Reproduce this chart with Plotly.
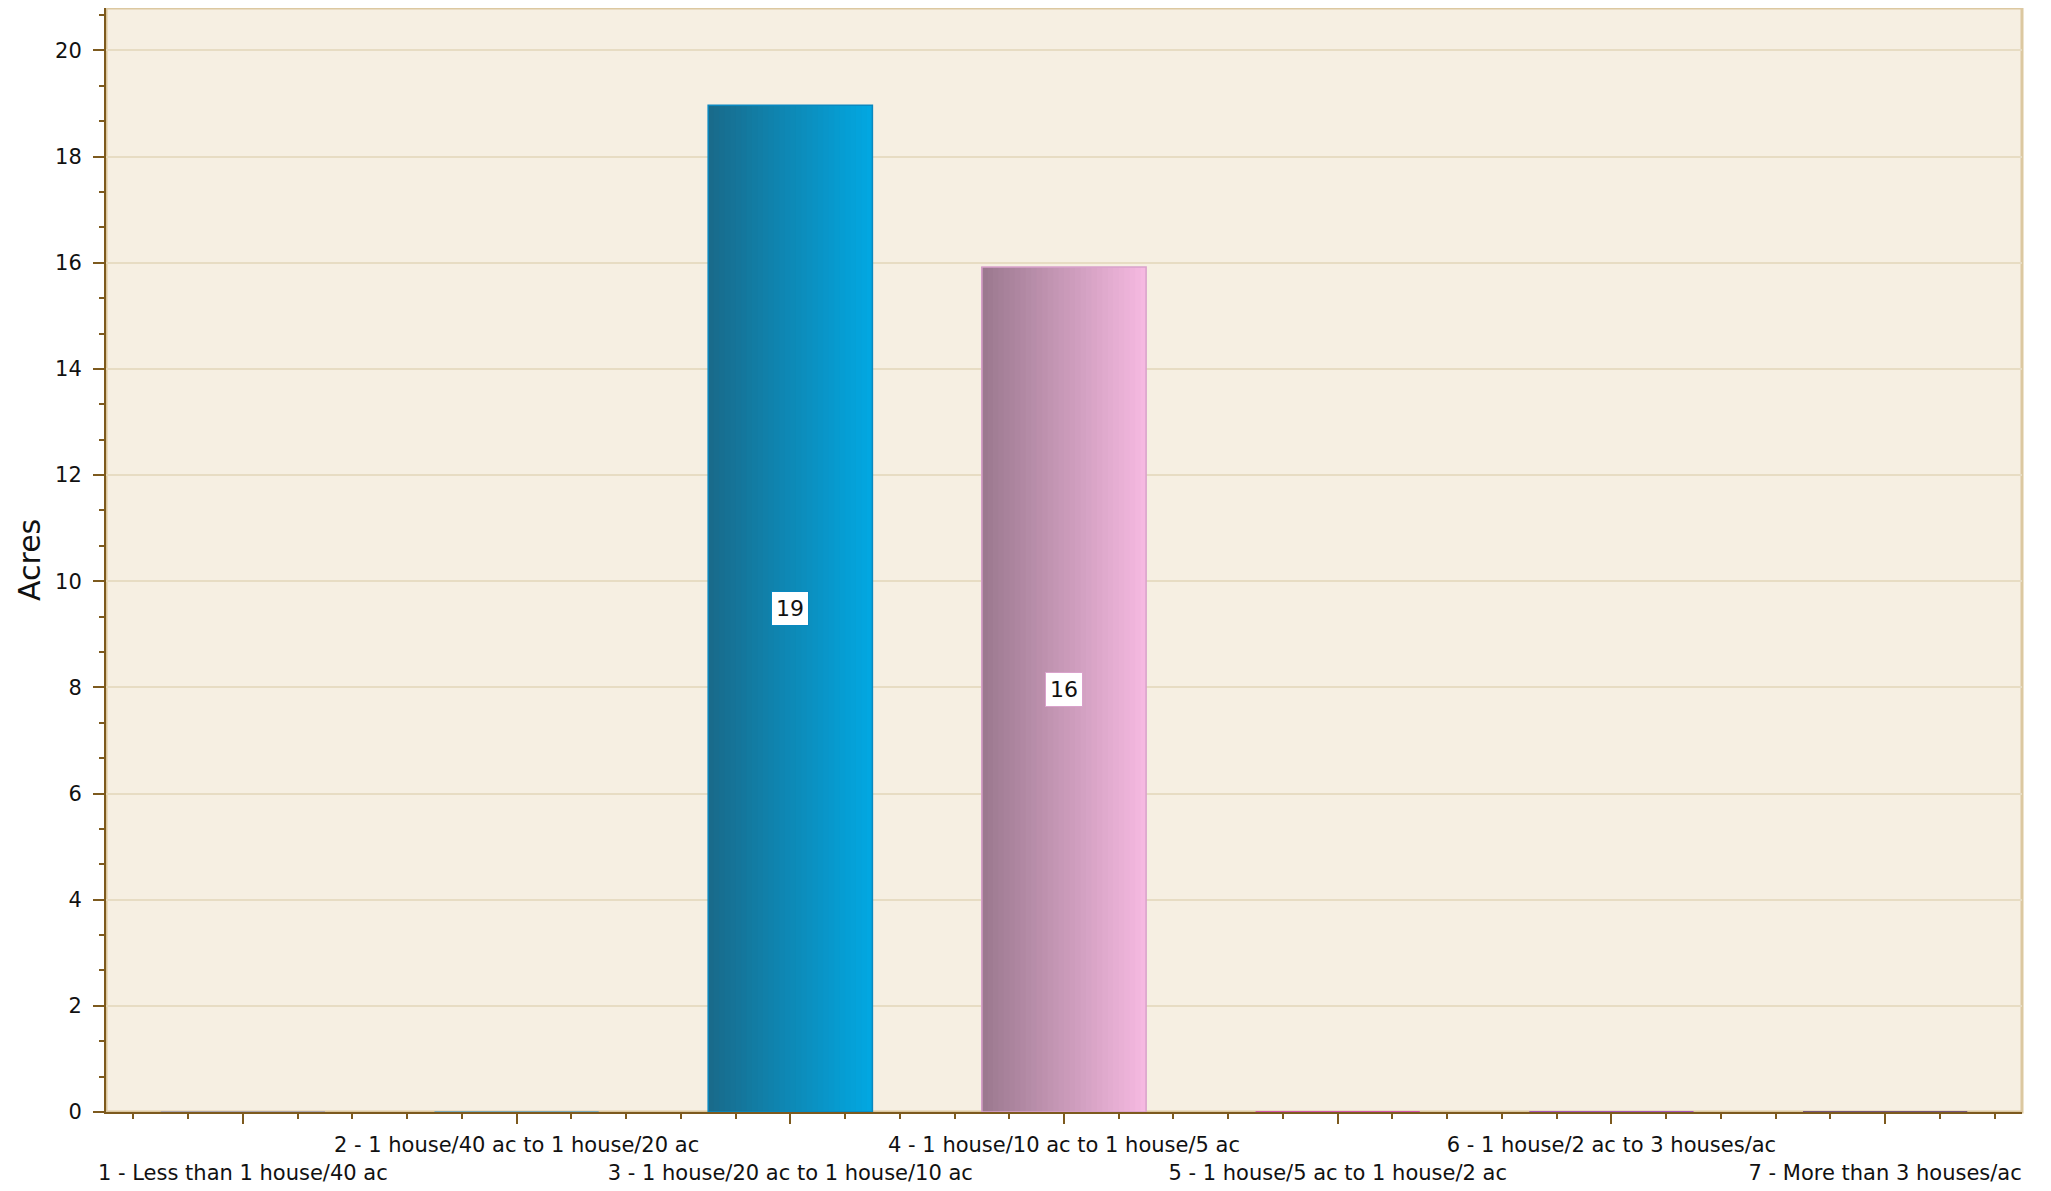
import plotly.graph_objects as go

# ---------------- data ----------------
categories = [
    "1 - Less than 1 house/40 ac",
    "2 - 1 house/40 ac to 1 house/20 ac",
    "3 - 1 house/20 ac to 1 house/10 ac",
    "4 - 1 house/10 ac to 1 house/5 ac",
    "5 - 1 house/5 ac to 1 house/2 ac",
    "6 - 1 house/2 ac to 3 houses/ac",
    "7 - More than 3 houses/ac",
]
acres = [0, 0, 18.97, 15.92, 0, 0, 0]
value_labels = ["", "", "19", "16", "", "", ""]
y_tick_values = [0, 2, 4, 6, 8, 10, 12, 14, 16, 18, 20]
y_title = "Acres"

# ---------------- styles ----------------
left_colors = ["#7c7c96", "#3d7fa6", "#196a8a", "#9a788e", "#a02a88", "#6a2a98", "#3a2458"]
right_colors = ["#b8b8d0", "#7cc4e8", "#02a8e2", "#f7bae2", "#e85cc8", "#b060e0", "#70509a"]
border_colors = ["#9a9ab4", "#5aa0c8", "#0a88c0", "#d9a2cb", "#d030b0", "#9030c0", "#503070"]
label_border = ["#9a9ab4", "#5aa0c8", "#0a88c0", "#d9a2cb", "#d030b0", "#9030c0", "#503070"]

AXIS = "#7d5a1e"
GRID = "#e7dcc3"
FONT = "DejaVu Sans"
BAR_W = 0.6
N_STRIPS = 30


def hex2rgb(h):
    h = h.lstrip("#")
    return tuple(int(h[i:i + 2], 16) for i in (0, 2, 4))


def lerp(c1, c2, t):
    a, b = hex2rgb(c1), hex2rgb(c2)
    return "rgb(%d,%d,%d)" % tuple(round(a[i] + (b[i] - a[i]) * t) for i in range(3))


x_idx = list(range(len(categories)))

fig = go.Figure()

# gradient built from overlaid bars (same data, narrowing from the left edge)
for k in range(N_STRIPS):
    t = 1 - (k + 0.5) / N_STRIPS
    fig.add_trace(go.Bar(
        x=x_idx, y=acres,
        width=BAR_W * (1 - k / N_STRIPS),
        offset=-BAR_W / 2,
        marker=dict(color=[lerp(l, r, t) for l, r in zip(left_colors, right_colors)],
                    line=dict(width=0)),
        showlegend=False, hoverinfo="skip",
    ))

# outline trace
fig.add_trace(go.Bar(
    x=x_idx, y=acres, width=BAR_W, offset=-BAR_W / 2,
    marker=dict(color="rgba(0,0,0,0)", line=dict(color=border_colors, width=1.5)),
    showlegend=False,
    hovertemplate="%{y}<extra></extra>",
))

# value labels in white boxes at mid-height
for i, (v, lab) in enumerate(zip(acres, value_labels)):
    if lab:
        fig.add_annotation(
            x=i, y=v / 2, text=lab, showarrow=False,
            font=dict(family=FONT, size=22, color="#111111"),
            bgcolor="white", bordercolor=label_border[i], borderwidth=1, borderpad=4,
        )

tick_text = [("<br>" + c) if i % 2 == 0 else c for i, c in enumerate(categories)]

fig.update_layout(
    width=2035, height=1175,
    margin=dict(l=98, r=21, t=0, b=71, autoexpand=False),
    paper_bgcolor="white",
    plot_bgcolor="#f6efe2",
    barmode="overlay",
    template="none",
    font=dict(family=FONT, color="#111111"),
    showlegend=False,
    xaxis=dict(
        range=[-0.5, 6.5], tickmode="array", tickvals=x_idx, ticktext=tick_text,
        tickangle=0,
        showline=True, linecolor=AXIS, linewidth=2,
        ticks="outside", ticklen=10, tickwidth=2, tickcolor=AXIS,
        minor=dict(dtick=0.2, tick0=0, ticks="outside", ticklen=5, tickwidth=1.5,
                   tickcolor=AXIS, showgrid=False),
        showgrid=False, zeroline=False, automargin=False,
        tickfont=dict(family=FONT, size=21, color="#111111"),
        ticklabelstandoff=3,
    ),
    yaxis=dict(
        range=[0, 20.80], tickmode="array", tickvals=y_tick_values,
        showline=True, linecolor=AXIS, linewidth=2,
        ticks="outside", ticklen=11, tickwidth=2, tickcolor=AXIS,
        minor=dict(dtick=2 / 3, tick0=0, ticks="outside", ticklen=5, tickwidth=1.5,
                   tickcolor=AXIS, showgrid=False),
        showgrid=True, gridcolor=GRID, gridwidth=2, zeroline=False, automargin=False,
        tickfont=dict(family=FONT, size=21, color="#111111"),
        ticklabelstandoff=7,
    ),
)

# plot frame (light tan top/right)
fig.add_shape(type="rect", xref="paper", yref="paper", x0=0, x1=1, y0=0, y1=1,
              line=dict(color="#dcc8a0", width=3), layer="below")

fig.add_annotation(
    x=-(98 - 21) / 1916, y=0.5, xref="paper", yref="paper",
    text=y_title, textangle=-90, showarrow=False,
    font=dict(family=FONT, size=30, color="#111111"),
    xanchor="center", yanchor="middle",
)

fig.write_html("out.html")
